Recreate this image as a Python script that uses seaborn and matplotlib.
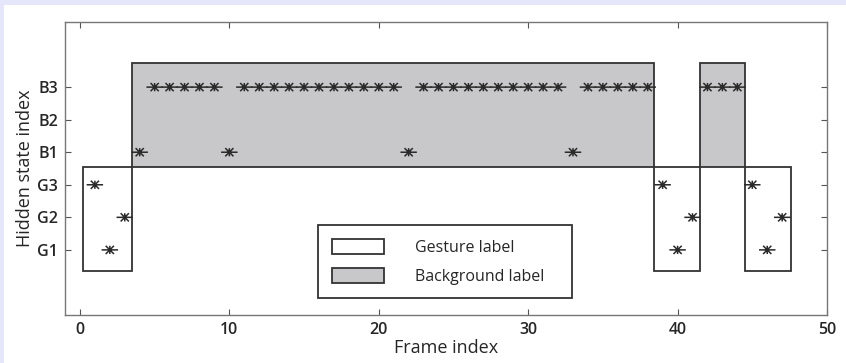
import numpy as np
import pandas as pd
import seaborn as sns
import matplotlib.pyplot as plt
from matplotlib.patches import Rectangle, Patch
from matplotlib.path import Path

# hidden state per frame (G1..G3 = 1..3, B1..B3 = 4..6)
frames = list(range(1, 48))
states = [3, 1, 2, 4, 6, 6, 6, 6, 6, 4,
          6, 6, 6, 6, 6, 6, 6, 6, 6, 6,
          6, 4, 6, 6, 6, 6, 6, 6, 6, 6,
          6, 6, 4, 6, 6, 6, 6, 6, 3, 1,
          2, 6, 6, 6, 3, 1, 2]
state_names = ["G1", "G2", "G3", "B1", "B2", "B3"]

# label segments: (start, end, kind)
seg_start = [0.2, 3.5, 38.4, 41.5, 44.5]
seg_end = [3.5, 38.4, 41.5, 44.5, 47.6]
seg_kind = ["gesture", "background", "gesture", "background", "gesture"]
gesture_y = (0.35, 3.55)
background_y = (3.55, 6.75)

sns.set_style("ticks")
plt.rcParams["font.family"] = ["Open Sans", "DejaVu Sans"]

# wide asterisk like the matlab '*' marker
star = Path([(-1, 0), (1, 0), (-0.5, -0.5), (0.5, 0.5), (-0.5, 0.5), (0.5, -0.5),
             (0, -0.5), (0, 0.5)],
            [Path.MOVETO, Path.LINETO] * 4)

fig = plt.figure(figsize=(8.46, 3.63), dpi=100, facecolor="#e6e6fa")
fig.patches.append(Rectangle((4 / 846, 0), 1, 1 - 5 / 363, transform=fig.transFigure,
                             facecolor="white", edgecolor="none", zorder=-10))
ax = fig.add_axes([65 / 846, 1 - 315 / 363, 762 / 846, 293 / 363])
ax.set_facecolor("white")

gray = "#c8c8cb"
for s, e, k in zip(seg_start, seg_end, seg_kind):
    lo, hi = gesture_y if k == "gesture" else background_y
    ax.add_patch(Rectangle((s, lo), e - s, hi - lo,
                           facecolor=gray if k == "background" else "none",
                           edgecolor="#333333", linewidth=1.3, zorder=2))

df = pd.DataFrame({"frame": frames, "state": states})
sns.scatterplot(data=df, x="frame", y="state", marker=star, s=140,
                facecolor="none", edgecolor="#2a2a2a", linewidth=1.1,
                ax=ax, zorder=3)

ax.set_xlim(-1, 50)
ax.set_ylim(-1, 8)
ax.set_xticks([0, 10, 20, 30, 40, 50])
ax.set_yticks(range(1, 7))
ax.set_yticklabels(state_names)
ax.tick_params(direction="in", top=True, right=True, length=4, width=0.8,
               color="#555555", labelsize=11.5, pad=5)
for lab in ax.get_yticklabels() + ax.get_xticklabels():
    lab.set_fontweight("semibold")
for sp in ax.spines.values():
    sp.set_visible(True)
    sp.set_color("#777777")
    sp.set_linewidth(1.0)
ax.set_xlabel("Frame index", fontsize=13, labelpad=1, fontweight="medium")
ax.set_ylabel("Hidden state index", fontsize=13, labelpad=2, fontweight="medium")

handles = [Patch(facecolor="white", edgecolor="#333333", linewidth=1.3),
           Patch(facecolor=gray, edgecolor="#333333", linewidth=1.3)]
leg = ax.legend(handles, ["Gesture label", "Background label"],
                loc="upper left", bbox_to_anchor=(0.332, 0.058, 0.334, 0.249),
                mode="expand",
                frameon=True, fancybox=False, edgecolor="#333333",
                handlelength=3.3, handleheight=1.1, handletextpad=1.9,
                borderpad=0.85, labelspacing=0.75, borderaxespad=0,
                fontsize=11.5)
leg.get_frame().set_linewidth(1.3)
leg.get_frame().set_alpha(1)

fig.savefig("out.png", dpi=100, facecolor=fig.get_facecolor())
